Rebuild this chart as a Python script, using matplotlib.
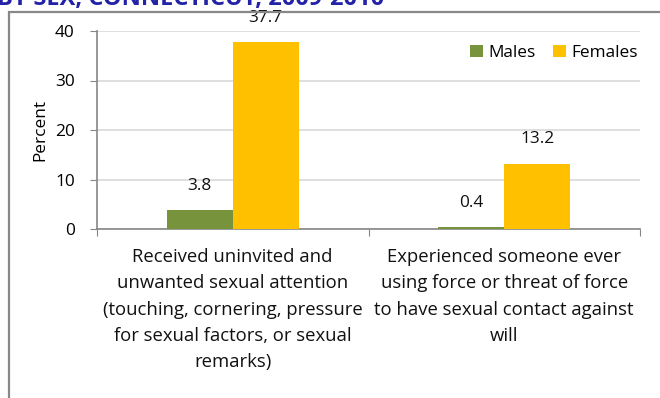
import matplotlib.pyplot as plt
from matplotlib.patches import Rectangle

categories = [
    "Received uninvited and\nunwanted sexual attention\n(touching, cornering, pressure\nfor sexual factors, or sexual\nremarks)",
    "Experienced someone ever\nusing force or threat of force\nto have sexual contact against\nwill",
]
males = [3.8, 0.4]
females = [37.7, 13.2]
yticks = [0, 10, 20, 30, 40]

plt.rcParams['font.family'] = ['Open Sans', 'DejaVu Sans']
fs = 12.4

fig = plt.figure(figsize=(6.6, 3.98), dpi=100)

# section heading, mostly above the visible area
fig.text(-0.005, 1 - 4.5 / 398, "BY SEX, CONNECTICUT, 2009-2010", color='#2323A8',
         fontsize=17, fontweight='bold', va='baseline', ha='left')

# frame around the chart
fig.patches.append(Rectangle((9 / 660, -0.1), 1.2, 1 - 12 / 398 + 0.1,
                             transform=fig.transFigure, fill=False,
                             edgecolor='#888888', linewidth=1.6))

ax = fig.add_axes([97 / 660, 1 - 229 / 398, (640 - 97) / 660, (229 - 31) / 398])

w = 0.243
x = range(len(categories))
b1 = ax.bar([i - w / 2 for i in x], males, w, color='#77933C', label='Males', zorder=3)
b2 = ax.bar([i + w / 2 for i in x], females, w, color='#FFC000', label='Females', zorder=3)

for bars, vals in ((b1, males), (b2, females)):
    for b, v in zip(bars, vals):
        ax.annotate(f"{v}", (b.get_x() + b.get_width() / 2, v), xytext=(0, 17.5),
                    textcoords='offset points', ha='center', va='center',
                    fontsize=fs, color='#111111')

ax.set_xlim(-0.5, 1.5)
ax.set_ylim(0, 40)
ax.set_yticks(yticks)
ax.tick_params(axis='y', length=5, color='#868686', labelsize=fs, pad=11)
ax.yaxis.grid(True, color='#D9D9D9', linewidth=1.2, zorder=0)
ax.set_ylabel("Percent", fontsize=fs, labelpad=5)

ax.set_xticks([-0.5, 0.5, 1.5])
ax.set_xticklabels([])
ax.tick_params(axis='x', length=5, color='#868686')
for i, c in enumerate(categories):
    ax.text(i, -3.9, c, ha='center', va='top', fontsize=13.3,
            linespacing=1.58, color='#111111')

for s in ('top', 'right'):
    ax.spines[s].set_visible(False)
for s in ('left', 'bottom'):
    ax.spines[s].set_color('#868686')
    ax.spines[s].set_linewidth(1.2)

ax.legend(loc='upper right', bbox_to_anchor=(1.008, 0.965), frameon=False, ncol=2,
          fontsize=fs, handlelength=0.75, handleheight=0.75, handletextpad=0.3,
          columnspacing=1.0, borderaxespad=0)

fig.savefig('out.png', dpi=100)
